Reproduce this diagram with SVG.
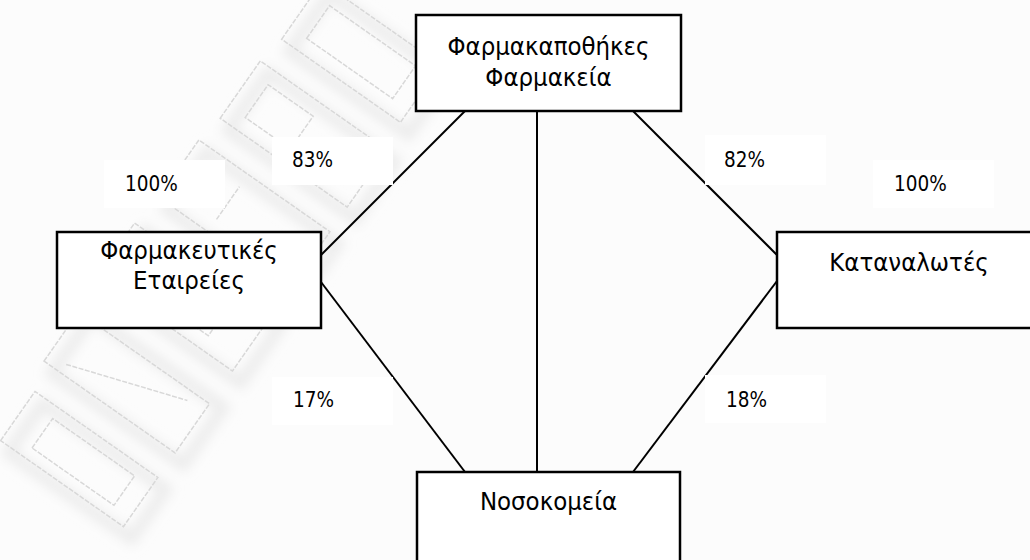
<svg xmlns="http://www.w3.org/2000/svg" width="1030" height="560" viewBox="0 0 1030 560">
  <defs>
    <style>
      .node rect { fill: #ffffff; stroke: #000000; stroke-width: 2.5; }
      .node text { font-family: 'DejaVu Sans Condensed', 'DejaVu Sans', sans-serif; font-size: 25.5px; fill: #000000; text-anchor: middle; }
      .conn line { stroke: #000000; stroke-width: 2; }
      .lab rect { fill: #ffffff; stroke: none; }
      .lab text { font-family: 'DejaVu Sans Condensed', 'DejaVu Sans', sans-serif; font-size: 20.5px; fill: #000000; }
      .wm rect, .wm path { fill: none; stroke: #d8d8d8; stroke-width: 1.5; stroke-dasharray: 5 1.5; }
      .wms rect, .wms path { fill: none; stroke: #ececec; stroke-width: 12; }
    </style>
    <filter id="blur" x="-20%" y="-20%" width="140%" height="140%">
      <feGaussianBlur stdDeviation="6"/>
    </filter>
  </defs>

  <rect x="0" y="0" width="1030" height="560" fill="#fcfcfc"/>

  <!-- faint watermark -->
  <g id="watermark">
    <g class="wms" filter="url(#blur)" transform="translate(8,12)">
      <g transform="translate(230,235) rotate(-55)">
        <rect x="-300" y="-70" width="60" height="150"/>
        <rect x="-210" y="-80" width="70" height="160"/>
        <rect x="-110" y="-85" width="70" height="165"/>
        <rect x="-10" y="-80" width="70" height="160"/>
        <rect x="90" y="-75" width="70" height="155"/>
        <rect x="190" y="-70" width="70" height="145"/>
      </g>
    </g>
    <g class="wm" transform="translate(230,235) rotate(-55)">
      <rect x="-300" y="-70" width="60" height="150"/>
      <rect x="-288" y="-40" width="36" height="100"/>
      <path d="M-210,-80 L-150,-80 L-150,80 L-210,80 Z M-200,-60 L-160,60"/>
      <path d="M-110,-85 L-45,-85 L-45,80 L-110,80 Z M-95,-60 L-60,-60 L-60,40 L-95,40 Z"/>
      <path d="M-10,-80 L60,-80 L60,80 L-10,80 Z M5,-20 L45,-20"/>
      <path d="M90,-75 L160,-75 L160,80 L90,80 Z M105,-55 L145,-55 L145,0 L105,0 Z"/>
      <path d="M190,-70 L260,-70 L260,75 L190,75 Z M205,-50 L245,-50 L245,55 L205,55 Z"/>
    </g>
  </g>

  <g id="connectors" class="conn">
    <line x1="465" y1="111" x2="321" y2="255"/>
    <line x1="321" y1="282" x2="465" y2="472"/>
    <line x1="537" y1="111" x2="537" y2="472"/>
    <line x1="633" y1="111" x2="777" y2="255"/>
    <line x1="777" y1="281" x2="633" y2="472"/>
  </g>

  <g id="labels" class="lab">
    <g id="label-100-left"><rect x="104" y="160" width="121" height="48"/><text x="125" y="191">100%</text></g>
    <g id="label-83"><rect x="272" y="137" width="121" height="48"/><text x="292" y="167">83%</text></g>
    <g id="label-17"><rect x="272" y="377" width="121" height="48"/><text x="293" y="407">17%</text></g>
    <g id="label-82"><rect x="705" y="135" width="121" height="50"/><text x="724" y="167">82%</text></g>
    <g id="label-100-right"><rect x="873" y="160" width="121" height="48"/><text x="894" y="191">100%</text></g>
    <g id="label-18"><rect x="705" y="375" width="121" height="48"/><text x="726" y="407">18%</text></g>
  </g>

  <g id="node-farmakapothikes" class="node">
    <rect x="416" y="15" width="265" height="96"/>
    <text x="548.5" y="55">Φαρμακαποθήκες</text>
    <text x="548.5" y="86">Φαρμακεία</text>
  </g>

  <g id="node-farmakeftikes" class="node">
    <rect x="57" y="232" width="264" height="96"/>
    <text x="189" y="259">Φαρμακευτικές</text>
    <text x="189" y="289">Εταιρείες</text>
  </g>

  <g id="node-katanalotes" class="node">
    <rect x="777" y="232" width="264" height="96"/>
    <text x="909" y="271">Καταναλωτές</text>
  </g>

  <g id="node-nosokomeia" class="node">
    <rect x="417" y="472" width="263" height="100"/>
    <text x="548.5" y="510">Νοσοκομεία</text>
  </g>
</svg>
